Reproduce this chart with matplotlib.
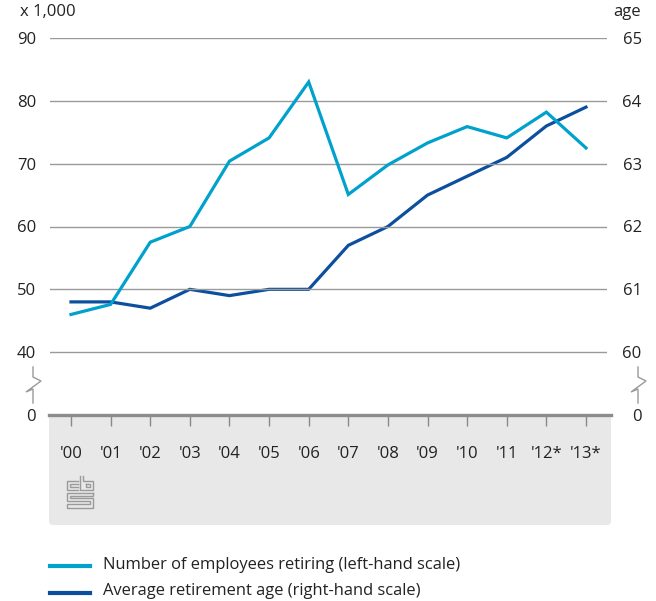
import matplotlib.pyplot as plt
from matplotlib.patches import FancyBboxPatch
from matplotlib.lines import Line2D

plt.rcParams['font.family'] = ['Open Sans', 'DejaVu Sans']

# Employees retiring (x 1,000) and average retirement age, 2000-2013
years = ["'00", "'01", "'02", "'03", "'04", "'05", "'06",
         "'07", "'08", "'09", "'10", "'11", "'12*", "'13*"]
retiring = [46.0, 47.6, 57.5, 60.0, 70.4, 74.1, 83.0,
            65.1, 69.8, 73.3, 75.9, 74.1, 78.2, 72.5]
avg_age = [60.8, 60.8, 60.7, 61.0, 60.9, 61.0, 61.0,
           61.7, 62.0, 62.5, 62.8, 63.1, 63.6, 63.9]
left_ticks = [40, 50, 60, 70, 80, 90]
right_ticks = [60, 61, 62, 63, 64, 65]

light = '#00a1cd'
dark = '#0b4f9e'
grid_c = '#9a9a9a'
text_c = '#222222'

W, H = 656, 601
fig = plt.figure(figsize=(W / 100, H / 100), dpi=100)


def fx(px):
    return px / W


def fy(py):
    return 1 - py / H


def poly(pts, color, lw=1.0):
    fig.add_artist(Line2D([fx(p[0]) for p in pts], [fy(p[1]) for p in pts],
                          color=color, lw=lw, solid_joinstyle='miter'))


# grey panel under the x axis
fig.patches.append(FancyBboxPatch((fx(49), fy(525)), fx(611) - fx(49), fy(414) - fy(525),
                                  boxstyle='round,pad=0,rounding_size=0.006',
                                  transform=fig.transFigure, facecolor='#e8e8e8',
                                  edgecolor='none', zorder=0))

ax = fig.add_axes([fx(50), fy(415), fx(607) - fx(50), fy(38) - fy(415)])
ax.patch.set_visible(False)
x = list(range(len(years)))
ax.set_xlim(-0.53, 13.53)
ax.set_ylim(30, 90)  # 30 stands in for the broken-axis zero
for v in left_ticks:
    ax.axhline(v, color=grid_c, lw=1.0, zorder=1)
for s in ax.spines.values():
    s.set_visible(False)
ax.set_yticks(left_ticks + [30])
ax.set_yticklabels([str(v) for v in left_ticks] + ['0'])
ax.tick_params(axis='y', length=0, pad=10, labelsize=12, labelcolor=text_c)
ax.set_xticks(x)
ax.set_xticklabels(years)
ax.tick_params(axis='x', length=8, width=1, color='#888888', pad=14,
               labelsize=12, labelcolor=text_c, direction='out')

ax.plot(x, retiring, color=light, lw=2.3, zorder=4, clip_on=False,
        solid_joinstyle='miter')

ax2 = ax.twinx()
ax2.set_ylim(59, 65)
for s in ax2.spines.values():
    s.set_visible(False)
ax2.set_yticks(right_ticks + [59])
ax2.set_yticklabels([str(v) for v in right_ticks] + ['0'], ha='right')
ax2.tick_params(axis='y', length=0, pad=25, labelsize=12, labelcolor=text_c)
ax2.plot(x, avg_age, color=dark, lw=2.3, zorder=3, clip_on=False,
         solid_joinstyle='miter')
ax.set_zorder(ax2.get_zorder() + 1)

# thick base line at zero
fig.add_artist(Line2D([fx(49), fx(611)], [fy(415), fy(415)], color='#8c8c8c', lw=2.4))

# axis break marks
for bx in (33, 638):
    poly([(bx, 367), (bx, 377), (bx + 8, 381), (bx - 7, 392), (bx, 389), (bx, 403)],
         '#9a9a9a')

fig.text(fx(20), fy(12), 'x 1,000', fontsize=12, color=text_c, va='center', ha='left')
fig.text(fx(641), fy(12), 'age', fontsize=12, color=text_c, va='center', ha='right')

# cbs logo
logo = '#9a9a9a'
poly([(78, 481), (67, 481), (67, 490), (78, 490)], logo)
poly([(78, 484), (70, 484), (70, 487), (78, 487)], logo)
poly([(80, 476), (80, 490), (93, 490), (93, 481), (83, 481), (83, 476)], logo)
poly([(86, 484), (90, 484), (90, 487), (86, 487), (86, 484)], logo)
poly([(93, 493), (67, 493), (67, 501), (90, 501), (90, 504), (67, 504),
      (67, 508), (93, 508), (93, 498), (70, 498), (70, 496), (93, 496), (93, 493)], logo)

# legend
fig.add_artist(Line2D([fx(50), fx(90)], [fy(566), fy(566)], color=light, lw=3))
fig.add_artist(Line2D([fx(50), fx(90)], [fy(593), fy(593)], color=dark, lw=3))
fig.text(fx(103), fy(565), 'Number of employees retiring (left-hand scale)',
         fontsize=11.9, color=text_c, va='center')
fig.text(fx(103), fy(591), 'Average retirement age (right-hand scale)',
         fontsize=11.9, color=text_c, va='center')

fig.savefig('out.png', dpi=100)
